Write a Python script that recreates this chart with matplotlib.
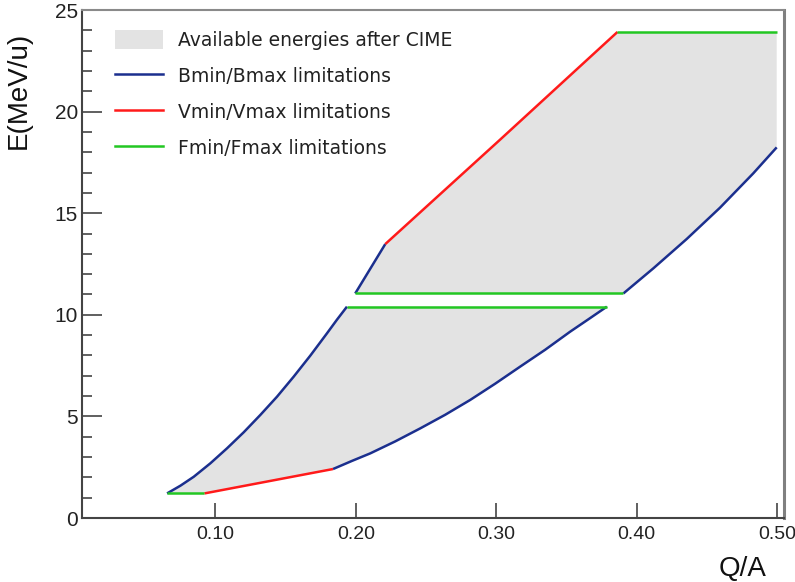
import numpy as np
import matplotlib
matplotlib.use("Agg")
import matplotlib.pyplot as plt
from matplotlib.patches import Patch
from matplotlib.lines import Line2D

# colours
BLUE = '#1b2f8e'
RED = '#ff1a1a'
GREEN = '#22c722'
FILL = '#e3e3e3'

# --- lower region ---
f1_q = [0.0656, 0.0922]          # Fmin line at bottom left
f1_e = [1.21, 1.21]
v1_q = [0.0922, 0.1380, 0.1838]  # Vmin line
v1_e = [1.21, 1.81, 2.41]
b1low_q = [0.1838, 0.1973, 0.2103, 0.2281, 0.2459, 0.2637, 0.2815, 0.2993,
           0.3171, 0.3349, 0.3527, 0.3657, 0.3788]
b1low_e = [2.41, 2.81, 3.18, 3.77, 4.41, 5.08, 5.81, 6.61,
           7.45, 8.28, 9.17, 9.78, 10.40]
f1top_q = [0.1937, 0.3788]
f1top_e = [10.40, 10.40]
b1up_q = [0.0656, 0.0751, 0.0846, 0.0964, 0.1083, 0.1202, 0.1320, 0.1439,
          0.1557, 0.1676, 0.1795, 0.1866, 0.1937]
b1up_e = [1.21, 1.59, 2.03, 2.69, 3.43, 4.22, 5.07, 5.97,
          6.95, 7.99, 9.09, 9.76, 10.40]

# --- upper region ---
f2low_q = [0.1996, 0.3906]
f2low_e = [11.05, 11.05]
b2low_q = [0.3906, 0.4120, 0.4357, 0.4594, 0.4831, 0.4998]
b2low_e = [11.05, 12.29, 13.73, 15.27, 16.96, 18.24]
b2up_q = [0.1996, 0.2210]
b2up_e = [11.05, 13.48]
v2_q = [0.2210, 0.3028, 0.3864]
v2_e = [13.48, 18.62, 23.92]
f2top_q = [0.3864, 0.4998]
f2top_e = [23.92, 23.92]

fig = plt.figure(figsize=(7.95, 5.82), dpi=100)
ax = fig.add_axes([82/795, 1 - 518/582, 702/795, 508/582])

# filled areas
poly1_q = f1_q + v1_q + b1low_q + f1top_q[::-1] + b1up_q[::-1]
poly1_e = f1_e + v1_e + b1low_e + f1top_e[::-1] + b1up_e[::-1]
ax.fill(poly1_q, poly1_e, color=FILL, lw=0)
poly2_q = f2low_q + b2low_q + f2top_q[::-1] + v2_q[::-1] + b2up_q[::-1]
poly2_e = f2low_e + b2low_e + f2top_e[::-1] + v2_e[::-1] + b2up_e[::-1]
ax.fill(poly2_q, poly2_e, color=FILL, lw=0)

lw = 1.8
for q, e in [(b1low_q, b1low_e), (b1up_q, b1up_e), (b2low_q, b2low_e), (b2up_q, b2up_e)]:
    ax.plot(q, e, color=BLUE, lw=lw, solid_capstyle='butt')
for q, e in [(v1_q, v1_e), (v2_q, v2_e)]:
    ax.plot(q, e, color=RED, lw=lw, solid_capstyle='butt')
for q, e in [(f1_q, f1_e), (f1top_q, f1top_e), (f2low_q, f2low_e), (f2top_q, f2top_e)]:
    ax.plot(q, e, color=GREEN, lw=lw, solid_capstyle='butt')

ax.set_xlim(0.005, 0.505)
ax.set_ylim(0, 25)

ax.set_xticks([0.1, 0.2, 0.3, 0.4, 0.5])
ax.set_xticklabels(['0.10', '0.20', '0.30', '0.40', '0.50'])
ax.set_yticks([0, 5, 10, 15, 20, 25])
ax.set_yticks(np.arange(0, 25, 1), minor=True)

tick_font = 'Liberation Sans'
ax.tick_params(axis='x', direction='in', length=11, width=1.2, color='#444444',
               labelsize=14, pad=6, labelcolor='#222222')
ax.tick_params(axis='y', which='major', direction='in', length=14.5, width=1.2,
               color='#444444', labelsize=15, pad=3, labelcolor='#222222')
ax.tick_params(axis='y', which='minor', direction='in', length=7, width=1.2,
               color='#444444')
ax.tick_params(axis='x', which='minor', length=0)
for lab in ax.get_xticklabels() + ax.get_yticklabels():
    lab.set_fontfamily(tick_font)

for s in ['left', 'bottom']:
    ax.spines[s].set_color('#444444')
    ax.spines[s].set_linewidth(1.5)
ax.spines['top'].set_color('#8a8a8a')
ax.spines['top'].set_linewidth(1.5)
ax.spines['right'].set_color('#808080')
ax.spines['right'].set_linewidth(2.2)

fig.text(19/795, 1 - 90/582, 'E(MeV/u)', rotation=90, ha='center', va='center',
         fontsize=20, family='Liberation Sans', color='#111111')
fig.text(766/795, 1 - 569/582, 'Q/A', ha='right', va='center',
         fontsize=20, family='Liberation Sans', color='#111111')

handles = [Patch(facecolor=FILL, edgecolor='none'),
           Line2D([0], [0], color=BLUE, lw=lw),
           Line2D([0], [0], color=RED, lw=lw),
           Line2D([0], [0], color=GREEN, lw=lw)]
labels = ['Available energies after CIME', 'Bmin/Bmax limitations',
          'Vmin/Vmax limitations', 'Fmin/Fmax limitations']
leg = ax.legend(handles, labels, loc='upper left', frameon=False,
                bbox_to_anchor=(115/795, 1 - 30/582), bbox_transform=fig.transFigure,
                borderpad=0, borderaxespad=0, handlelength=2.56,
                handleheight=1.17, handletextpad=0.8, labelspacing=0.87,
                prop={'family': 'DejaVu Sans', 'size': 13.5})
for t in leg.get_texts():
    t.set_color('#222222')

fig.savefig('out.png', dpi=100)
